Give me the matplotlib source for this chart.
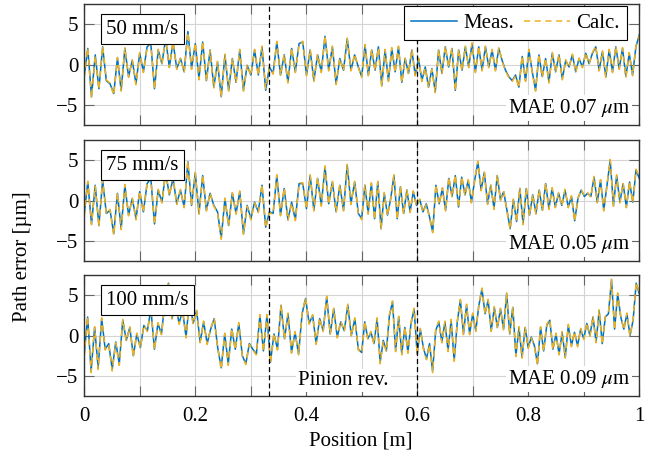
import numpy as np
import matplotlib.pyplot as plt

plt.rcParams['font.family'] = ['Liberation Serif', 'DejaVu Serif']
plt.rcParams['mathtext.fontset'] = 'stix'
plt.rcParams['font.size'] = 15

# labels and summary numbers
speeds = ['50 mm/s', '75 mm/s', '100 mm/s']
mae = ['0.07', '0.05', '0.09']
pinion_rev = [1 / 3, 0.6]
x_ticks = [0, 0.2, 0.4, 0.6, 0.8, 1]
x_ticklabels = ['0', '0.2', '0.4', '0.6', '0.8', '1']

# path error [um]; "_a" = first half (0..0.5 m), "_b" = second half
meas_50_a = [-1.5, 2.0, -4.0, 1.2, -3.0, 2.2, -2.0, -2.4, -3.6, 0.8,
             -3.2, 2.0, -1.5, 0.5, -2.4, 1.4, -0.9, 2.2, 2.6, -3.0,
             1.8, 0.1, 3.2, -0.3, 2.8, -0.5, 0.75, -0.9, 4.1, -0.5,
             2.6, -1.75, 2.8, -2.0, 1.8, -2.8, 0.3, -4.0, 1.2, -3.2,
             0.75, -2.2, 1.8, -3.2, -0.1, -1.3, 1.8, -1.3, 2.2, -3.2,
             -0.3, -1.1, 2.8, -1.3, 1.2, -2.2, 2.0, -0.9, 2.6, 2.8,
             -1.3, 1.8, -2.0, 1.2, -0.9, 3.5, -0.7, 2.2, -2.4, 0.75,
             -0.7, 3.2, -0.7, 1.2, -0.3]
meas_50_b = [-1.5, 2.4, -1.3, 1.8, -0.7, 2.2, -2.6, 1.8, -2.0, 2.0,
             -0.9, 2.2, -2.2, 0.75, -1.1, 1.8, -1.3, 0.75, -2.0, -0.3,
             -2.8, -0.5, -3.4, 1.8, -1.1, 2.2, -0.3, 2.0, -3.2, 1.8,
             -0.7, 2.2, -0.3, 2.6, -0.9, 2.2, -0.7, 2.2, -0.3, 1.8,
             -0.7, 2.0, 0.5, -0.7, -1.5, -2.0, -1.3, -2.8, 1.0, -2.0,
             1.8, -0.9, -3.2, 1.2, -1.5, 0.75, -2.2, 1.4, -0.9, 1.2,
             -1.75, 0.5, -0.3, 1.2, -0.9, 0.75, -0.3, 1.4, 0.1, 1.4,
             2.2, -0.7, 1.6, -1.5, 1.8, -0.9, 2.2, -0.5, 2.0, -1.5,
             1.4, -1.3, 2.2, 3.7]
calc_50_a = [-1.7, 2.1, -4.2, 1.1, -3.1, 2.3, -1.9, -2.3, -3.8, 0.9,
             -3.3, 2.1, -1.6, 0.6, -2.5, 1.5, -1.0, 2.1, 2.7, -3.1,
             1.9, 0.0, 3.3, -0.4, 2.9, -0.6, 0.8, -1.0, 4.0, -0.6,
             2.7, -1.9, 2.9, -2.1, 1.7, -2.9, 0.4, -4.1, 1.3, -3.3,
             0.8, -2.3, 1.9, -3.3, 0.0, -1.4, 1.9, -1.4, 2.3, -3.0,
             -0.4, -1.2, 2.9, -1.4, 1.3, -2.3, 2.1, -1.0, 2.5, 2.9,
             -1.4, 1.9, -2.1, 1.3, -1.0, 3.6, -0.8, 2.3, -2.5, 0.8,
             -0.8, 3.3, -0.8, 1.3, -0.4]
calc_50_b = [-1.6, 2.5, -1.4, 1.9, -0.8, 2.1, -2.8, 1.9, -2.1, 2.1,
             -1.0, 2.3, -2.3, 0.8, -1.2, 1.9, -1.4, 0.8, -2.1, -0.4,
             -2.9, -0.6, -3.5, 1.9, -1.2, 2.3, -0.4, 2.1, -3.3, 1.9,
             -0.8, 2.3, -0.4, 2.7, -1.0, 2.3, -0.8, 2.3, -0.4, 1.9,
             -0.8, 2.1, 0.4, -0.8, -1.6, -2.1, -1.4, -2.9, 1.1, -2.1,
             1.9, -1.0, -3.3, 1.3, -1.6, 0.8, -2.3, 1.5, -1.0, 1.3,
             -1.9, 0.6, -0.4, 1.3, -1.0, 0.8, -0.4, 1.5, 0.0, 1.5,
             2.3, -0.8, 1.7, -1.6, 1.9, -1.0, 2.3, -0.6, 2.1, -1.6,
             1.5, -1.4, 2.3, 3.6]

meas_75_a = [-1.8, 2.3, -2.9, 1.9, -3.1, 2.5, -1.6, -1.2, -4.1, 0.9,
             -3.5, 1.9, -1.8, 0.25, -2.25, 1.1, -1.4, 2.1, 2.75, -2.9,
             1.3, -0.2, 3.5, 0.7, 2.75, -0.4, 1.3, -0.8, 4.8, -0.6,
             3.4, -1.6, 3.1, -1.2, 0.9, -0.6, -1.4, -4.7, 0.25, -3.1,
             0.9, -1.6, 1.1, -4.1, -0.6, -2.25, -0.2, -1.4, 1.9, -3.3,
             -1.4, -1.6, 3.1, -1.8, 1.5, -2.4, -0.2, -2.4, 2.1, 2.1,
             -1.0, 3.1, -1.2, 2.75, -0.6, 4.2, -0.4, 2.3, -1.4, 1.9,
             -1.2, 4.4, -0.4, 2.3, -1.6]
meas_75_b = [-2.25, 1.9, -1.6, 2.1, -2.25, 2.3, -3.5, 0.9, -1.8, 0.25,
             3.1, -2.25, 1.7, -1.6, 1.3, -1.4, 1.1, -0.6, 0.1, -1.4,
             -0.4, -2.0, -3.9, 1.9, -0.4, 1.5, -1.2, 2.75, 0.5, 3.1,
             -0.8, 2.9, 0.7, 2.5, -0.2, 2.5, 4.8, 1.3, 3.5, -0.4,
             1.9, -1.0, 3.1, 0.1, 1.1, -1.2, -3.5, 0.1, -2.6, 1.5,
             -2.9, 1.5, -1.8, 0.7, -1.6, 1.3, -1.2, 2.1, -1.0, 1.5,
             -0.8, 0.9, -0.6, 1.3, -0.8, 0.5, -2.5, 0.25, 1.3, 0.5,
             0.9, 0.5, 2.9, -0.2, 2.5, -1.2, 1.9, 5.0, -0.6, 3.1,
             -0.2, 2.1, -0.8, 2.3, -0.2, 3.8, 2.75]
calc_75_a = [-2.0, 2.4, -3.0, 1.8, -3.3, 2.6, -1.7, -1.1, -4.3, 1.0,
             -3.6, 2.0, -1.9, 0.3, -2.4, 1.2, -1.5, 2.2, 2.9, -3.0,
             1.4, -0.3, 3.6, 0.6, 2.9, -0.5, 1.4, -0.9, 4.9, -0.7,
             3.5, -1.7, 3.2, -1.3, 1.0, -0.7, -1.5, -4.8, 0.3, -3.2,
             1.0, -1.7, 1.2, -4.2, -0.7, -2.4, -0.3, -1.5, 2.0, -3.4,
             -1.5, -1.7, 3.2, -1.9, 1.6, -2.5, -0.3, -2.5, 2.2, 2.2,
             -1.1, 3.2, -1.3, 2.9, -0.7, 4.3, -0.5, 2.4, -1.5, 2.0,
             -1.3, 4.5, -0.5, 2.4, -1.7]
calc_75_b = [-2.4, 2.0, -1.7, 2.2, -2.4, 2.4, -3.6, 1.0, -1.9, 0.3,
             3.2, -2.4, 1.8, -1.7, 1.4, -1.5, 1.2, -0.7, 0.2, -1.5,
             -0.5, -2.1, -4.0, 2.0, -0.5, 1.6, -1.3, 2.9, 0.4, 3.2,
             -0.9, 3.0, 0.6, 2.6, -0.3, 2.6, 4.9, 1.2, 3.6, -0.5,
             2.0, -1.1, 3.2, 0.0, 1.2, -1.3, -3.6, 0.2, -2.7, 1.6,
             -3.0, 1.6, -1.9, 0.8, -1.7, 1.4, -1.3, 2.2, -1.1, 1.6,
             -0.9, 1.0, -0.7, 1.4, -0.9, 0.6, -2.6, 0.3, 1.4, 0.6,
             1.0, 0.4, 3.0, -0.3, 2.6, -1.3, 2.0, 5.1, -0.7, 3.2,
             -0.3, 2.2, -0.9, 2.4, -0.3, 3.9, 2.8]

meas_100_a = [-2.5, 2.3, -4.4, 1.0, -4.0, 2.1, -1.7, -1.0, -4.2, -0.8,
              -3.5, 1.9, -0.6, 1.0, -2.5, 0.2, -1.5, 1.25, 0.6, 3.3,
              -1.7, 1.5, 0.2, 4.2, 6.5, 2.1, 4.0, 1.5, 3.1, -0.2,
              4.6, 1.5, 3.1, -0.8, 1.7, -1.0, 0.8, 2.1, -1.5, -4.0,
              0.2, -3.5, 0.8, -1.7, 1.5, -2.5, -3.5, -1.0, -1.7, -2.3,
              2.5, -1.9, 2.5, -3.3, 0.2, -1.7, 3.75, -0.4, 2.7, -2.1,
              0.4, -2.3, 2.7, 4.6, 1.5, 2.5, -1.0, 2.1, 0.6, 4.8,
              0.2, 3.3, -0.2, 1.7, 0.6, 3.75, 0.0, 2.1, -1.7]
meas_100_b = [-2.1, 1.7, -0.4, 0.4, -1.0, 2.1, -3.3, -0.6, -1.9, 2.5,
              4.2, -1.9, 2.3, -2.3, 1.0, -2.1, 1.5, 3.3, -2.3, 0.8,
              -1.5, -2.9, -1.0, -4.4, 0.6, 1.7, -0.8, 1.7, -1.9, 1.9,
              -3.1, 1.7, 4.4, 0.2, 3.75, 0.2, 2.7, 0.6, 3.75, 5.8,
              2.7, 4.4, 0.6, 3.5, 1.0, 3.3, 0.8, 5.2, 0.2, 3.5,
              -2.5, 1.0, -2.7, 1.0, -1.5, -0.2, -1.25, -3.5, 1.0, -1.9,
              1.25, 1.9, -1.7, 0.2, -2.3, 0.4, -2.7, 1.25, -1.25, 0.4,
              -1.25, 0.8, -0.4, 1.5, 0.0, 2.3, -0.8, 3.1, -1.0, 2.3,
              2.7, 6.9, 0.8, 5.2, 2.3, 0.8, 2.7, 0.0, 1.9, 6.5,
              5.2]
calc_100_a = [-2.7, 2.4, -4.6, 1.1, -4.2, 2.2, -1.8, -1.1, -4.4, -0.9,
              -3.7, 2.0, -0.7, 1.1, -2.7, 0.3, -1.6, 1.3, 0.5, 3.4,
              -1.8, 1.6, 0.1, 4.3, 6.4, 2.0, 4.1, 1.4, 3.2, -0.3,
              4.7, 1.4, 3.2, -0.9, 1.8, -1.1, 0.9, 2.2, -1.6, -4.2,
              0.3, -3.7, 0.9, -1.8, 1.6, -2.6, -3.6, -1.1, -1.8, -2.4,
              2.6, -2.0, 2.6, -3.5, 0.3, -1.8, 3.9, -0.5, 2.8, -2.2,
              0.5, -2.4, 2.8, 4.7, 1.4, 2.6, -1.1, 2.2, 0.5, 4.9,
              0.1, 3.4, -0.3, 1.8, 0.5, 3.9, -0.1, 2.2, -1.8]
calc_100_b = [-2.2, 1.8, -0.5, 0.5, -1.1, 2.2, -3.5, -0.7, -2.0, 2.6,
              4.3, -2.0, 2.4, -2.4, 1.1, -2.2, 1.6, 3.4, -2.4, 0.9,
              -1.6, -3.0, -1.1, -4.6, 0.7, 1.8, -0.9, 1.8, -2.0, 2.0,
              -3.2, 1.8, 4.5, 0.1, 3.9, 0.1, 2.8, 0.5, 3.9, 5.9,
              2.6, 4.5, 0.5, 3.6, 0.9, 3.4, 0.7, 5.3, 0.1, 3.6,
              -2.6, 1.1, -2.8, 1.1, -1.6, -0.3, -1.4, -3.7, 1.1, -2.0,
              1.4, 2.0, -1.8, 0.3, -2.4, 0.5, -2.8, 1.4, -1.4, 0.5,
              -1.4, 0.9, -0.5, 1.6, -0.1, 2.4, -0.9, 3.2, -1.1, 2.4,
              2.8, 7.0, 0.7, 5.3, 2.4, 0.7, 2.8, -0.1, 2.0, 6.6,
              5.3]

panels = [
    (meas_50_a, meas_50_b, calc_50_a, calc_50_b),
    (meas_75_a, meas_75_b, calc_75_a, calc_75_b),
    (meas_100_a, meas_100_b, calc_100_a, calc_100_b),
]

blue = '#0072BD'
orange = '#EDB120'
edge = '#333333'

fig = plt.figure(figsize=(6.57, 4.57), dpi=100)
bottoms = [0.7265, 0.4289, 0.1335]
height = 0.2645

axes = []
for i, (ma, mb, ca, cb) in enumerate(panels):
    ax = fig.add_axes([0.128, bottoms[i], 0.845, height])
    axes.append(ax)
    x = np.concatenate([np.linspace(0, 0.494, len(ma)), np.linspace(0.5, 1, len(mb))])
    ax.plot(x, ma + mb, color=blue, lw=1.1, label='Meas.')
    ax.plot(x, ca + cb, color=orange, lw=1.1, dashes=(4, 3), label='Calc.')
    for p in pinion_rev:
        ax.axvline(p, color='black', lw=0.9, dashes=(4, 2.5), zorder=3)

    ax.set_xlim(0, 1)
    ax.set_ylim(-7.5, 7.5)
    ax.set_yticks([-5, 0, 5])
    ax.set_xticks(x_ticks)
    ax.set_xticklabels(x_ticklabels)
    ax.set_xticks(np.arange(0.1, 1.0, 0.2), minor=True)
    ax.grid(True, which='both', color='#d4d4d4', lw=0.8)
    ax.set_axisbelow(True)
    ax.tick_params(which='both', direction='in', length=7, width=0.8, color='#666666',
                   top=True, right=True)
    ax.tick_params(axis='x', pad=8)
    ax.tick_params(axis='y', pad=4)
    for s in ax.spines.values():
        s.set_color(edge)
        s.set_linewidth(1.0)
    if i < 2:
        ax.tick_params(axis='x', labelbottom=False)

    ax.text(0.04, 0.793, speeds[i], transform=ax.transAxes, ha='left', va='center',
            zorder=5, bbox=dict(boxstyle='square,pad=0.25', fc='white', ec='black', lw=0.8))
    ax.text(0.984, 0.14, 'MAE ' + mae[i] + r' $\mu$m', transform=ax.transAxes,
            ha='right', va='center', zorder=5,
            bbox=dict(boxstyle='square,pad=0.1', fc='white', ec='none'))

axes[0].legend(loc='upper right', bbox_to_anchor=(0.978, 0.985), borderaxespad=0,
               ncol=2, fancybox=False, framealpha=1, edgecolor='black',
               handlelength=2.2, handletextpad=0.3, columnspacing=0.5,
               borderpad=0.35).get_frame().set_linewidth(0.8)

axes[2].text(0.467, -5.55, 'Pinion rev.', ha='center', va='center', zorder=5,
             bbox=dict(boxstyle='square,pad=0.1', fc='white', ec='none'))

fig.text(0.035, 0.438, 'Path error [µm]', rotation=90, ha='center', va='center')
fig.text(0.549, 0.035, 'Position [m]', ha='center', va='center')

fig.savefig('out.png', dpi=100)
